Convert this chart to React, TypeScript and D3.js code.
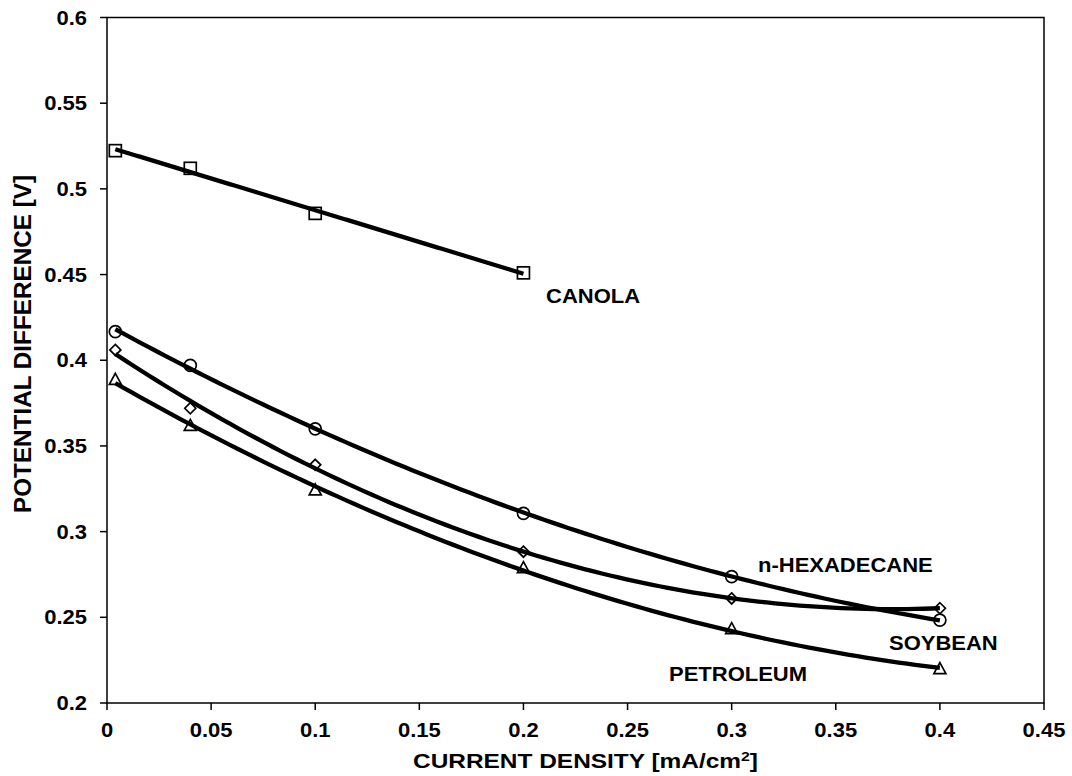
import React from "react";
import * as d3 from "d3";

// Current density sample points [mA/cm²]
const currentDensity = [0.004, 0.04, 0.1, 0.2, 0.3, 0.4];
// Measured potential difference [V] per fuel
const canola = [0.5223, 0.512, 0.4857, 0.451];
const hexadecane = [0.4167, 0.397, 0.36, 0.3107, 0.2737, 0.2484];
const soybean = [0.406, 0.372, 0.339, 0.2883, 0.261, 0.2553];
const petroleum = [0.3885, 0.3616, 0.324, 0.2786, 0.243, 0.2197];

const xTickValues = [0, 0.05, 0.1, 0.15, 0.2, 0.25, 0.3, 0.35, 0.4, 0.45];
const xTickLabels = ["0", "0.05", "0.1", "0.15", "0.2", "0.25", "0.3", "0.35", "0.4", "0.45"];
const yTickValues = [0.2, 0.25, 0.3, 0.35, 0.4, 0.45, 0.5, 0.55, 0.6];
const yTickLabels = ["0.2", "0.25", "0.3", "0.35", "0.4", "0.45", "0.5", "0.55", "0.6"];

const W = 1072;
const H = 776;
const M = { left: 107, right: 1044, top: 17.5, bottom: 703 };
const FONT = "'Liberation Sans', Arial, sans-serif";
const SX = 1.1;
const FS = 20;

// Least-squares polynomial fit (degree 1 or 2)
function polyFit(xs: number[], ys: number[], deg: number): number[] {
  const n = deg + 1;
  const A: number[][] = Array.from({ length: n }, () => Array(n + 1).fill(0));
  for (let i = 0; i < xs.length; i++) {
    for (let r = 0; r < n; r++) {
      for (let c = 0; c < n; c++) A[r][c] += Math.pow(xs[i], r + c);
      A[r][n] += ys[i] * Math.pow(xs[i], r);
    }
  }
  for (let p = 0; p < n; p++) {
    let best = p;
    for (let r = p + 1; r < n; r++) if (Math.abs(A[r][p]) > Math.abs(A[best][p])) best = r;
    [A[p], A[best]] = [A[best], A[p]];
    for (let r = 0; r < n; r++) {
      if (r === p) continue;
      const f = A[r][p] / A[p][p];
      for (let c = p; c <= n; c++) A[r][c] -= f * A[p][c];
    }
  }
  return A.map((row, i) => row[n] / row[i]);
}

const evalPoly = (coef: number[], x: number) => coef.reduce((s, c, i) => s + c * Math.pow(x, i), 0);

type Marker = "square" | "circle" | "diamond" | "triangle";

const series: { name: string; ys: number[]; deg: number; marker: Marker }[] = [
  { name: "canola", ys: canola, deg: 1, marker: "square" },
  { name: "hexadecane", ys: hexadecane, deg: 2, marker: "circle" },
  { name: "soybean", ys: soybean, deg: 2, marker: "diamond" },
  { name: "petroleum", ys: petroleum, deg: 2, marker: "triangle" },
];

const labels = [
  { text: "CANOLA", x: 546, y: 303 },
  { text: "n-HEXADECANE", x: 758, y: 572 },
  { text: "SOYBEAN", x: 889, y: 650 },
  { text: "PETROLEUM", x: 669, y: 681 },
];

function MarkerShape({ type, cx, cy }: { type: Marker; cx: number; cy: number }) {
  const common = { fill: "none", stroke: "#000", strokeWidth: 1.7 };
  if (type === "square") return <rect x={cx - 6} y={cy - 6} width={12} height={12} {...common} />;
  if (type === "circle") return <circle cx={cx} cy={cy} r={6} {...common} />;
  if (type === "diamond") {
    const s = 5.5;
    return <path d={`M${cx},${cy - s}L${cx + s},${cy}L${cx},${cy + s}L${cx - s},${cy}Z`} {...common} />;
  }
  const h = 11;
  const w = 12;
  return <path d={`M${cx},${cy - h * 0.6}L${cx + w / 2},${cy + h * 0.4}L${cx - w / 2},${cy + h * 0.4}Z`} {...common} />;
}

export default function App() {
  const x = d3.scaleLinear().domain([0, 0.45]).range([M.left, M.right]);
  const y = d3.scaleLinear().domain([0.2, 0.6]).range([M.bottom, M.top]);
  const line = d3
    .line<[number, number]>()
    .x((d) => x(d[0]))
    .y((d) => y(d[1]));

  return (
    <svg width={W} height={H} style={{ position: "absolute", left: 0, top: 0, background: "#fff" }} fontFamily={FONT}>
      {/* frame */}
      <rect x={M.left} y={M.top} width={M.right - M.left} height={M.bottom - M.top} fill="none" stroke="#000" strokeWidth={1.5} />

      {/* y ticks */}
      {yTickValues.map((v, i) => (
        <g key={"y" + i}>
          <line x1={M.left - 7} x2={M.left} y1={y(v)} y2={y(v)} stroke="#000" strokeWidth={1.5} />
          <text
            transform={`translate(${M.left - 20},${y(v) + 7}) scale(${SX},1)`}
            textAnchor="end"
            fontSize={FS}
            fontWeight="bold"
          >
            {yTickLabels[i]}
          </text>
        </g>
      ))}

      {/* x ticks */}
      {xTickValues.map((v, i) => (
        <g key={"x" + i}>
          <line x1={x(v)} x2={x(v)} y1={M.bottom} y2={M.bottom + 7} stroke="#000" strokeWidth={1.5} />
          <text
            transform={`translate(${x(v)},${737}) scale(${SX},1)`}
            textAnchor="middle"
            fontSize={FS}
            fontWeight="bold"
          >
            {xTickLabels[i]}
          </text>
        </g>
      ))}

      {/* axis titles */}
      <text x={413} y={768} fontSize={FS} fontWeight="bold" textLength={345} lengthAdjust="spacingAndGlyphs">
        CURRENT DENSITY [mA/cm
        <tspan fontSize={13} dy={-7}>2</tspan>
        <tspan dy={7}>]</tspan>
      </text>
      <text
        transform={`translate(31,513) rotate(-90)`}
        fontSize={24.5}
        fontWeight="bold"
        textLength={338}
        lengthAdjust="spacingAndGlyphs"
      >
        POTENTIAL DIFFERENCE [V]
      </text>

      {/* fitted curves */}
      {series.map((s) => {
        const xs = currentDensity.slice(0, s.ys.length);
        const coef = polyFit(xs, s.ys, s.deg);
        const x0 = xs[0];
        const x1 = xs[xs.length - 1];
        const pts: [number, number][] = d3
          .range(0, 101)
          .map((k) => x0 + ((x1 - x0) * k) / 100)
          .map((xv) => [xv, evalPoly(coef, xv)]);
        return <path key={s.name + "-fit"} d={line(pts) || ""} fill="none" stroke="#000" strokeWidth={4.3} strokeLinejoin="round" />;
      })}

      {/* measured points */}
      {series.map((s) =>
        s.ys.map((v, i) => (
          <MarkerShape key={s.name + i} type={s.marker} cx={x(currentDensity[i])} cy={y(v)} />
        ))
      )}

      {/* series labels */}
      {labels.map((l) => (
        <text key={l.text} transform={`translate(${l.x},${l.y}) scale(${SX},1)`} fontSize={FS} fontWeight="bold">
          {l.text}
        </text>
      ))}
    </svg>
  );
}
